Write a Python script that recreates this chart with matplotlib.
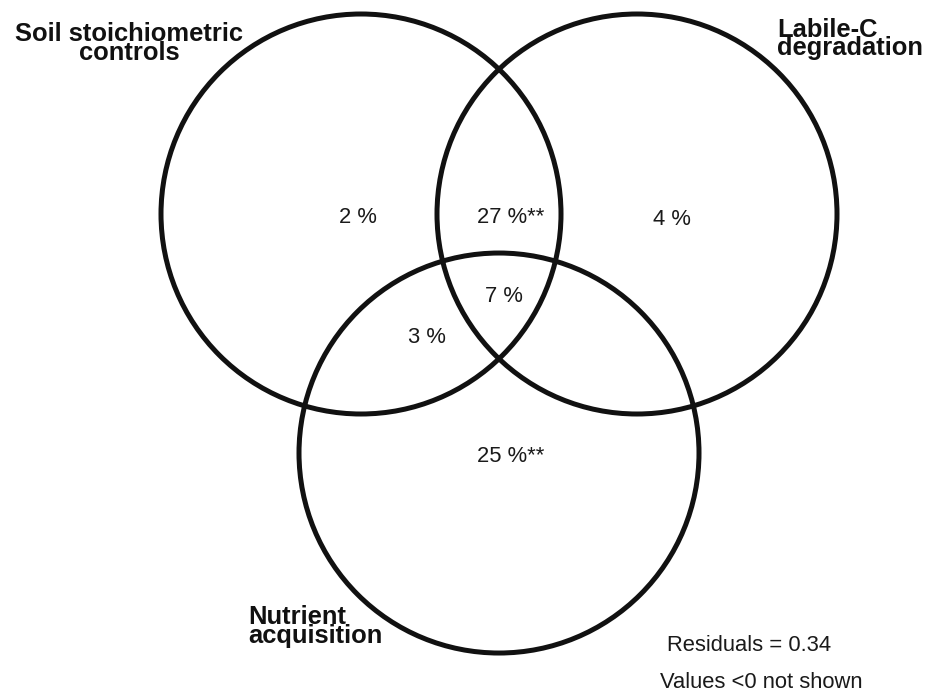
"""
Venn diagram of variance partitioning between three groups of predictors.
Each circle is one group; region labels give the share of explained
variance (%), ** marks the significant fractions.
"""

import numpy as np
import matplotlib.pyplot as plt
from matplotlib.patches import Circle

plt.rcParams["font.family"] = ["Liberation Sans", "DejaVu Sans"]


# ---------------------------------------------------------------------------
# Data
# ---------------------------------------------------------------------------

# one name per circle (two lines each)
SET_NAMES = [
    ["Soil stoichiometric", "controls"],
    ["Labile-C", "degradation"],
    ["Nutrient", "acquisition"],
]

# fractions: A only, B only, A&B, A&B&C, A&C, C only  (B&C < 0, not shown)
REGIONS = ["A", "B", "AB", "ABC", "AC", "C"]
REGION_PCT = [2, 4, 27, 7, 3, 25]
REGION_SIG = ["", "", "**", "", "", "**"]

RESIDUALS = 0.34
NOTE = "Values <0 not shown"


# ---------------------------------------------------------------------------
# Layout (pixel units, y downwards)
# ---------------------------------------------------------------------------

W, H = 925, 693
RADIUS = 200
SPACING = 276          # distance between circle centres
MID_X, TOP_Y = 499, 214

# text anchors: (x, baseline y)
REGION_POS = {
    "A":   (358, 223),
    "B":   (672, 225),
    "AB":  (511, 223),
    "ABC": (504, 302),
    "AC":  (427, 343),
    "C":   (511, 462),
}
# (x, first baseline, ha) for each set name
NAME_POS = [
    (129, 41, "center"),
    (777, 37, "left"),
    (248, 624, "left"),
]
LINE_STEP = 18.5


def circle_centres():
    h = SPACING * np.sqrt(3) / 2
    return [
        (MID_X - SPACING / 2, TOP_Y),
        (MID_X + SPACING / 2, TOP_Y),
        (MID_X, TOP_Y + h),
    ]


def plot_venn(save_path="out.png"):
    fig = plt.figure(figsize=(W / 100, H / 100), dpi=100)
    ax = fig.add_axes([0, 0, 1, 1])
    ax.set_xlim(0, W)
    ax.set_ylim(H, 0)
    ax.set_aspect("equal")
    ax.axis("off")

    for cx, cy in circle_centres():
        ax.add_patch(Circle((cx, cy), RADIUS, fill=False,
                            edgecolor="#111111", linewidth=3.6))

    for key, pct, sig in zip(REGIONS, REGION_PCT, REGION_SIG):
        x, y = REGION_POS[key]
        ax.text(x, y, f"{pct} %{sig}", ha="center", va="baseline",
                fontsize=15.8, color="#1a1a1a")

    for lines, (x, y, ha) in zip(SET_NAMES, NAME_POS):
        for i, line in enumerate(lines):
            ax.text(x, y + i * LINE_STEP, line, ha=ha, va="baseline",
                    fontsize=18.4, fontweight="bold", color="#111111")

    ax.text(667, 651, f"Residuals = {RESIDUALS}", ha="left", va="baseline",
            fontsize=15.8, color="#1a1a1a")
    ax.text(660, 688, NOTE, ha="left", va="baseline",
            fontsize=15.8, color="#1a1a1a")

    fig.savefig(save_path, dpi=100, facecolor="white")


if __name__ == "__main__":
    plot_venn()
